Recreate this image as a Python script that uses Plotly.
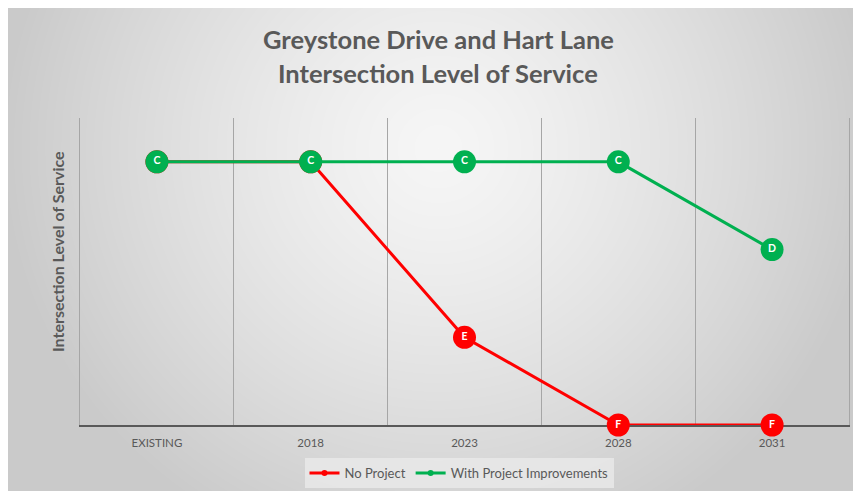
import base64
import struct
import zlib

import numpy as np
import plotly.graph_objects as go

# ---- data ----
categories = ["EXISTING", "2018", "2023", "2028", "2031"]
los_scale = ["F", "E", "D", "C"]  # bottom -> top of the level-of-service axis
no_project_los = ["C", "C", "E", "F", "F"]
with_project_los = ["C", "C", "C", "C", "D"]
series_names = ["No Project", "With Project Improvements"]
title_lines = ["Greystone Drive and Hart Lane", "Intersection Level of Service"]
y_title = "Intersection Level of Service"

RED = "#FF0000"
GREEN = "#00B050"
GREY_TXT = "#595959"
FONT = "Lato"

# page has an 8px body margin; figure origin sits at (8, 8) on the page
OX, OY = 8, 8
W, H = 861 - OX, 491 - OY
ML, MR, MT, MB = 80 - OX, 12, 118 - OY, 66
PW, PH = W - ML - MR, H - MT - MB


def px(xp):  # page x -> paper x
    return (xp - OX - ML) / PW


def py(yp):  # page y -> paper y
    return (H - MB - (yp - OY)) / PH


def cx_(xp):  # page x -> container x
    return (xp - OX) / W


def cy_(yp):  # page y -> container y
    return 1 - (yp - OY) / H


def gradient_png():
    yy, xx = np.mgrid[0:H, 0:W].astype(float)
    cx, cy = 430.0, 140.0
    d = np.sqrt(((xx - cx) / 440.0) ** 2 + ((yy - cy) / 430.0) ** 2)
    d = np.clip(d, 0, 1)
    v = 246 - (246 - 202) * d ** 1.3
    img = v.astype(np.uint8)
    raw = b"".join(b"\x00" + img[r].tobytes() for r in range(H))

    def chunk(tag, data):
        c = struct.pack(">I", len(data)) + tag + data
        return c + struct.pack(">I", zlib.crc32(tag + data) & 0xFFFFFFFF)

    png = b"\x89PNG\r\n\x1a\n"
    png += chunk(b"IHDR", struct.pack(">IIBBBBB", W, H, 8, 0, 0, 0, 0))
    png += chunk(b"IDAT", zlib.compress(raw, 9))
    png += chunk(b"IEND", b"")
    return "data:image/png;base64," + base64.b64encode(png).decode()


def to_num(levels):
    return [los_scale.index(l) for l in levels]


fig = go.Figure()

for name, levels, color in [
    (series_names[0], no_project_los, RED),
    (series_names[1], with_project_los, GREEN),
]:
    fig.add_trace(
        go.Scatter(
            x=categories,
            y=to_num(levels),
            mode="lines+markers+text",
            name=name,
            showlegend=False,
            line=dict(color=color, width=3),
            marker=dict(size=23, color=color),
            text=[f"<b>{l}</b>" for l in levels],
            textposition="middle center",
            textfont=dict(family=FONT, size=10.5, color="white"),
            cliponaxis=False,
            hoverinfo="skip",
        )
    )

# legend-only entries (small markers like the reference legend)
for name, color in [(series_names[0], RED), (series_names[1], GREEN)]:
    fig.add_trace(
        go.Scatter(
            x=[None],
            y=[None],
            mode="lines+markers",
            name=name,
            line=dict(color=color, width=3),
            marker=dict(size=6, color=color),
        )
    )

annotations = [
    dict(
        text=f"<b>{title_lines[0]}</b>",
        x=px(438), y=py(39),
        xref="paper", yref="paper", showarrow=False,
        xanchor="center", yanchor="middle",
        font=dict(family=FONT, size=25.5, color=GREY_TXT),
    ),
    dict(
        text=f"<b>{title_lines[1]}</b>",
        x=px(438), y=py(73),
        xref="paper", yref="paper", showarrow=False,
        xanchor="center", yanchor="middle",
        font=dict(family=FONT, size=25.5, color=GREY_TXT),
    ),
    dict(
        text=f"<b>{y_title}</b>",
        x=px(57), y=py(252),
        xref="paper", yref="paper", showarrow=False,
        xanchor="center", yanchor="middle", textangle=-90,
        font=dict(family=FONT, size=16, color=GREY_TXT),
    ),
]

fig.update_layout(
    width=W,
    height=H,
    margin=dict(l=ML, r=MR, t=MT, b=MB, pad=0, autoexpand=False),
    paper_bgcolor="white",
    plot_bgcolor="rgba(0,0,0,0)",
    showlegend=True,
    legend=dict(
        orientation="h",
        xref="container", yref="container",
        x=cx_(459), xanchor="center",
        y=cy_(473), yanchor="middle",
        bgcolor="rgba(234,234,234,0.8)",
        font=dict(family=FONT, size=13, color=GREY_TXT),
        itemwidth=30,
    ),
    annotations=annotations,
    images=[
        dict(
            source=gradient_png(),
            xref="paper", yref="paper",
            x=-ML / PW, y=(H - MB) / PH,
            sizex=W / PW, sizey=H / PH,
            xanchor="left", yanchor="top",
            sizing="stretch", layer="below",
        )
    ],
    xaxis=dict(
        type="category",
        range=[-0.5, 4.5],
        tickson="boundaries",
        automargin=False,
        layer="below traces",
        showgrid=True,
        gridcolor="#a6a6a6",
        gridwidth=1,
        showline=True,
        linecolor=GREY_TXT,
        linewidth=1.5,
        ticks="",
        ticklabelstandoff=6,
        tickfont=dict(family=FONT, size=11.5, color=GREY_TXT),
        fixedrange=True,
    ),
    yaxis=dict(
        range=[0, 3.5],
        automargin=False,
        layer="below traces",
        showticklabels=False,
        showgrid=False,
        zeroline=False,
        showline=True,
        mirror=True,
        linecolor="#a6a6a6",
        linewidth=1,
        fixedrange=True,
    ),
)

fig.write_html("out.html")
